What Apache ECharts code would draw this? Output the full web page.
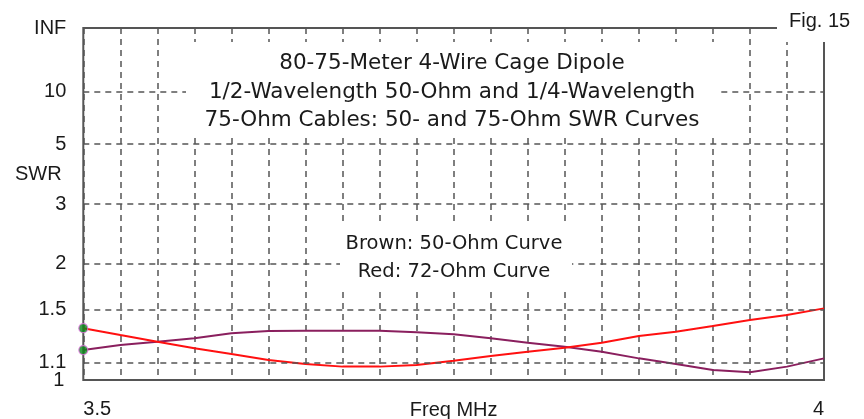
<!DOCTYPE html>
<html>
<head>
<meta charset="utf-8">
<script src="https://cdn.jsdelivr.net/npm/echarts@6/dist/echarts.min.js"></script>
<style>
  html, body { margin: 0; padding: 0; background: #fff; }
  #chart { width: 864px; height: 419px; }
</style>
</head>
<body>
<div id="chart"></div>
<script>
// Frequency sweep (MHz) and SWR readings for the two feed systems
const freqMHz = [3.5, 3.525, 3.55, 3.575, 3.6, 3.625, 3.65, 3.675, 3.7, 3.725, 3.75,
                 3.775, 3.8, 3.825, 3.85, 3.875, 3.9, 3.925, 3.95, 3.975, 4.0];
const swr50Ohm = [1.186, 1.221, 1.244, 1.269, 1.306, 1.323, 1.326, 1.326, 1.326, 1.313, 1.298,
                  1.269, 1.237, 1.209, 1.175, 1.131, 1.095, 1.058, 1.045, 1.079, 1.131];
const swr72Ohm = [1.345, 1.293, 1.244, 1.198, 1.160, 1.120, 1.095, 1.079, 1.079, 1.089, 1.116,
                  1.146, 1.175, 1.202, 1.237, 1.286, 1.318, 1.362, 1.411, 1.453, 1.511];

// SWR scale ticks (the vertical scale is linear in reflection coefficient)
const swrTicks = [Infinity, 10, 5, 3, 2, 1.5, 1.1, 1];
const swrTickLabels = ['INF', '10', '5', '3', '2', '1.5', '1.1', '1'];

// Frequency labels shown under the axis
const freqLabelValues = [3.5, 4];
const freqLabelTexts = ['3.5', '4'];

const titleLines = [
  '80-75-Meter 4-Wire Cage Dipole',
  '1/2-Wavelength 50-Ohm and 1/4-Wavelength',
  '75-Ohm Cables: 50- and 75-Ohm SWR Curves'
];
const noteLines = ['Brown: 50-Ohm Curve', 'Red: 72-Ohm Curve'];

function rho(swr) {
  return swr === Infinity ? 1 : (swr - 1) / (swr + 1);
}

const AXIS_FONT = '"Liberation Sans", Arial, sans-serif';
const TEXT_FONT = '"DejaVu Sans", sans-serif';
const gridDash = { color: '#555', width: 1.5, type: [6, 5] };

const chart = echarts.init(document.getElementById('chart'), null, { renderer: 'canvas' });

const tickLines = swrTicks.map((s, i) => {
  const edge = (s === Infinity || s === 1);
  return {
    yAxis: rho(s),
    lineStyle: edge ? { color: 'rgba(0,0,0,0)', width: 0 } : gridDash,
    label: {
      formatter: swrTickLabels[i],
      distance: s === 1 ? 19 : 17
    }
  };
});

chart.setOption({
  animation: false,
  backgroundColor: '#fff',
  grid: {
    left: 83.3, right: 40, top: 28, bottom: 39,
    outerBoundsMode: 'none',
    containLabel: false,
    show: true, borderColor: '#555', borderWidth: 2, backgroundColor: '#fff'
  },
  xAxis: {
    type: 'value',
    min: 3.5, max: 4, interval: 0.025,
    name: 'Freq MHz',
    nameLocation: 'middle',
    nameGap: 20,
    nameMoveOverlap: false,
    nameTextStyle: { fontFamily: AXIS_FONT, fontSize: 20, color: '#1a1a1a', verticalAlign: 'top' },
    axisLine: { show: false },
    axisTick: { show: false },
    axisLabel: {
      margin: 19,
      fontFamily: AXIS_FONT, fontSize: 20, color: '#1a1a1a',
      showMinLabel: true, showMaxLabel: true,
      alignMinLabel: 'left', alignMaxLabel: 'right',
      formatter: v => {
        const k = freqLabelValues.findIndex(f => Math.abs(f - v) < 1e-6);
        return k >= 0 ? freqLabelTexts[k] : '';
      }
    },
    splitLine: { show: true, lineStyle: gridDash }
  },
  yAxis: {
    type: 'value',
    min: 0, max: 1,
    axisLine: { show: false },
    axisTick: { show: false },
    axisLabel: { show: false },
    splitLine: { show: false }
  },
  series: [
    {
      // SWR scale grid lines and labels
      type: 'line',
      data: [],
      silent: true,
      markLine: {
        silent: true,
        symbol: 'none',
        label: {
          position: 'start',
          fontFamily: AXIS_FONT, fontSize: 20, color: '#1a1a1a'
        },
        data: tickLines
      }
    },
    {
      name: '50-Ohm',
      type: 'line',
      data: freqMHz.map((f, i) => [f, rho(swr50Ohm[i])]),
      symbol: 'none',
      lineStyle: { color: '#8a1f5e', width: 2 },
      z: 3
    },
    {
      name: '72-Ohm',
      type: 'line',
      data: freqMHz.map((f, i) => [f, rho(swr72Ohm[i])]),
      symbol: 'none',
      lineStyle: { color: '#ff1010', width: 2 },
      z: 4
    },
    {
      // start-of-sweep markers
      type: 'scatter',
      clip: false,
      symbol: 'circle',
      symbolSize: 9,
      itemStyle: { color: '#0a8a1a', borderColor: '#e070e0', borderWidth: 1.2 },
      data: [[freqMHz[0], rho(swr72Ohm[0])], [freqMHz[0], rho(swr50Ohm[0])]],
      z: 5
    }
  ],
  graphic: [
    { type: 'rect', shape: { x: 186, y: 42, width: 531, height: 94 }, style: { fill: '#fff' }, z: 100 },
    {
      type: 'text', x: 452, y: 92, z: 101,
      style: {
        text: titleLines.join('\n'), align: 'center', verticalAlign: 'middle',
        font: '21.5px ' + TEXT_FONT, lineHeight: 28.5, fill: '#1a1a1a'
      }
    },
    { type: 'rect', shape: { x: 340, y: 225, width: 232, height: 67 }, style: { fill: '#fff' }, z: 100 },
    {
      type: 'text', x: 454, y: 258, z: 101,
      style: {
        text: noteLines.join('\n'), align: 'center', verticalAlign: 'middle',
        font: '19.5px ' + TEXT_FONT, lineHeight: 28, fill: '#1a1a1a'
      }
    },
    { type: 'rect', shape: { x: 777, y: 0, width: 87, height: 42 }, style: { fill: '#fff' }, z: 100 },
    {
      type: 'text', x: 789, y: 21, z: 101,
      style: { text: 'Fig. 15', align: 'left', verticalAlign: 'middle', font: '20px ' + AXIS_FONT, fill: '#1a1a1a' }
    },
    {
      type: 'text', x: 15, y: 174, z: 101,
      style: { text: 'SWR', align: 'left', verticalAlign: 'middle', font: '20px ' + AXIS_FONT, fill: '#1a1a1a' }
    }
  ]
});
</script>
</body>
</html>
